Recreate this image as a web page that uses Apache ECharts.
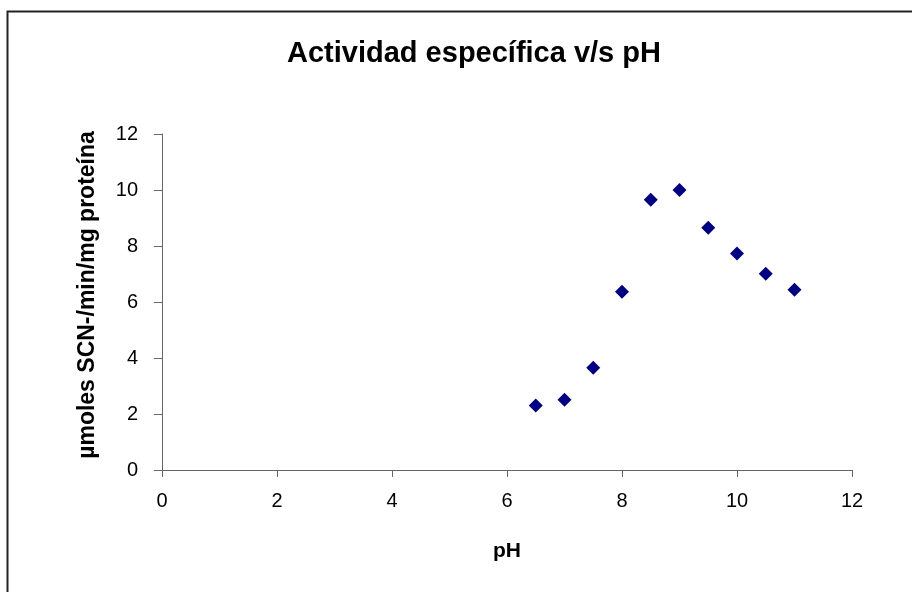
<!DOCTYPE html>
<html>
<head>
<meta charset="utf-8">
<script src="https://cdn.jsdelivr.net/npm/echarts@6/dist/echarts.min.js"></script>
<style>
  html, body { margin: 0; padding: 0; background: #fff; }
  #chart { width: 912px; height: 592px; }
</style>
</head>
<body>
<div id="chart"></div>
<script>
// datos
var phValues = [6.5, 7, 7.5, 8, 8.5, 9, 9.5, 10, 10.5, 11];
var actividad = [2.30, 2.51, 3.65, 6.37, 9.65, 10.0, 8.65, 7.73, 7.01, 6.44];
var xTicks = [0, 2, 4, 6, 8, 10, 12];
var yTicks = [0, 2, 4, 6, 8, 10, 12];

var chart = echarts.init(document.getElementById('chart'));

var points = [];
for (var i = 0; i < phValues.length; i++) {
    points.push([phValues[i], actividad[i]]);
}

var font = 'Arial, "Liberation Sans", sans-serif';

var option = {
    animation: false,
    backgroundColor: '#fff',
    title: {
        text: 'Actividad específica v/s pH',
        left: 469,
        top: 34,
        textAlign: 'center',
        textStyle: {
            fontFamily: font,
            fontSize: 29,
            fontWeight: 'bold',
            color: '#000'
        }
    },
    graphic: [{
        type: 'rect',
        shape: { x: 7.5, y: 11.5, width: 1000, height: 1000 },
        style: { fill: 'none', stroke: '#222', lineWidth: 2 },
        silent: true
    }],
    grid: {
        left: 162,
        top: 134,
        right: 60,
        bottom: 122
    },
    xAxis: {
        type: 'value',
        min: xTicks[0],
        max: xTicks[xTicks.length - 1],
        interval: 2,
        name: 'pH',
        nameLocation: 'middle',
        nameGap: 71,
        nameTextStyle: { fontFamily: font, fontSize: 21, fontWeight: 'bold', color: '#000', verticalAlign: 'top' },
        splitLine: { show: false },
        axisLine: { lineStyle: { color: '#666', width: 1 } },
        axisTick: { inside: false, length: 7, lineStyle: { color: '#666' } },
        axisLabel: { margin: 21, fontFamily: font, fontSize: 20, color: '#000' }
    },
    yAxis: {
        type: 'value',
        min: yTicks[0],
        max: yTicks[yTicks.length - 1],
        interval: 2,
        name: 'µmoles SCN-/min/mg proteína',
        nameLocation: 'middle',
        nameGap: 63,
        nameRotate: 90,
        nameTextStyle: { fontFamily: font, fontSize: 23, fontWeight: 'bold', color: '#000', padding: [0, 0, 0, 14] },
        splitLine: { show: false },
        axisLine: { show: true, lineStyle: { color: '#666', width: 1 } },
        axisTick: { show: true, inside: false, length: 8, lineStyle: { color: '#666' } },
        axisLabel: { margin: 24, fontFamily: font, fontSize: 20, color: '#000' }
    },
    series: [{
        type: 'scatter',
        data: points,
        symbol: 'diamond',
        symbolSize: 14,
        itemStyle: { color: '#000080', opacity: 1 }
    }]
};

chart.setOption(option);
</script>
</body>
</html>
